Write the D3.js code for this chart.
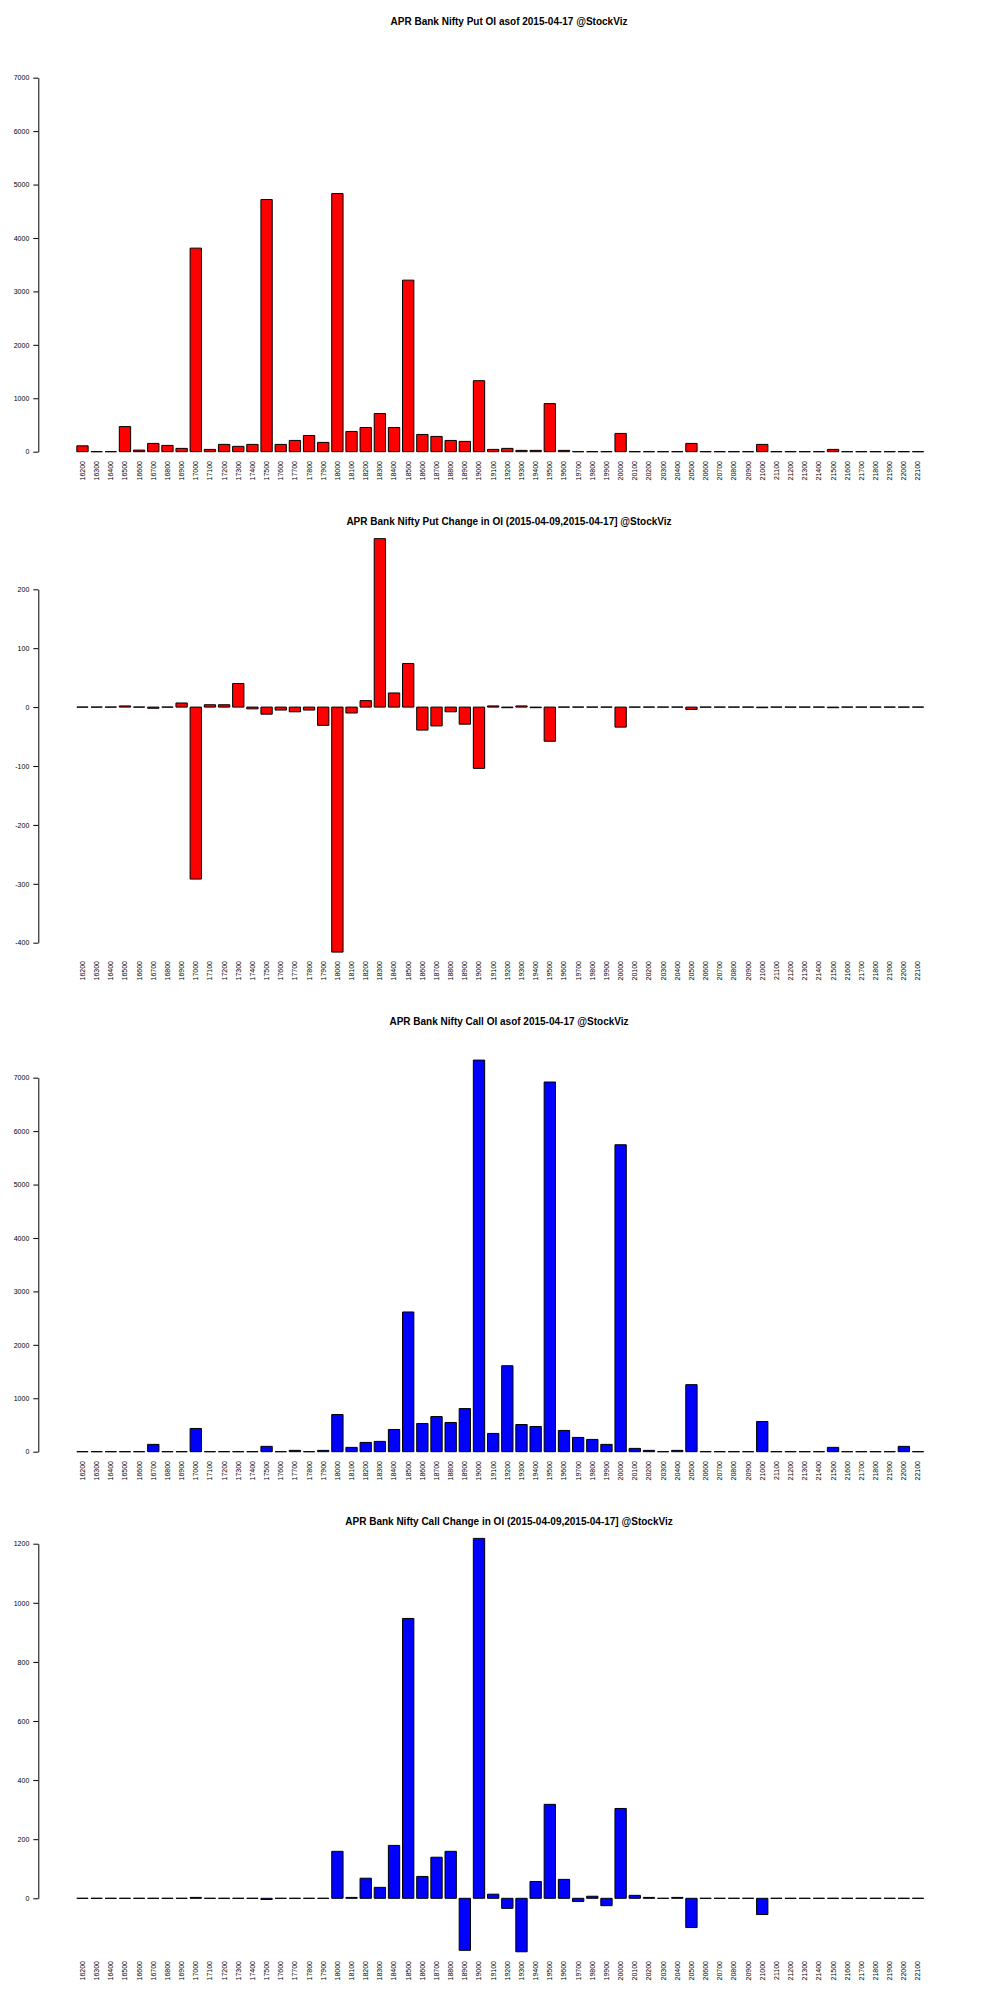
<!DOCTYPE html>
<html>
<head>
<meta charset="utf-8">
<script src="https://cdn.jsdelivr.net/npm/d3@7"></script>
<style>
body { margin: 0; background: #fff; }
svg { display: block; }
text { font-family: "Liberation Sans", Arial, sans-serif; }
</style>
</head>
<body>
<svg id="chart" width="1000" height="2000"></svg>
<script>
const strikes = ["16200","16300","16400","16500","16600","16700","16800","16900","17000","17100",
  "17200","17300","17400","17500","17600","17700","17800","17900","18000","18100",
  "18200","18300","18400","18500","18600","18700","18800","18900","19000","19100",
  "19200","19300","19400","19500","19600","19700","19800","19900","20000","20100",
  "20200","20300","20400","20500","20600","20700","20800","20900","21000","21100",
  "21200","21300","21400","21500","21600","21700","21800","21900","22000","22100"];

const putOI = [110,0,0,470,30,155,118,62,3810,43, 137,100,137,4720,137,211,304,174,4832,379,
  453,714,453,3211,323,286,211,193,1329,43,
  62,25,25,900,25,0,0,0,342,0, 0,0,0,155,0,0,0,0,137,0, 0,0,0,43,0,0,0,0,0,0];

const putChg = [0,0,0,2,0,-2,0,7,-292,4, 4,40,-3,-12,-5,-8,-5,-31,-416,-10,
  11,286,24,74,-39,-32,-8,-29,-104,2,
  -1,2,-1,-58,0,0,0,0,-34,0, 0,0,0,-4,0,0,0,0,-1,0, 0,0,0,-1,0,0,0,0,0,0];

const callOI = [0,0,0,0,0,137,0,0,435,0, 0,0,0,100,0,25,0,25,696,81,
  174,193,416,2615,528,658,547,807,7329,342,
  1609,509,472,6919,398,267,230,137,5745,62, 25,0,25,1255,0,0,0,0,565,0, 0,0,0,81,0,0,0,0,100,0];

const callChg = [0,0,0,0,0,0,0,0,3,0, 0,0,0,-4,0,0,0,0,159,3,
  68,37,179,947,74,139,159,-176,1218,14,
  -34,-181,57,318,64,-11,7,-25,304,10, 3,0,3,-99,0,0,0,0,-55,0, 0,0,0,0,0,0,0,0,0,0];

const oiTicks = [0,1000,2000,3000,4000,5000,6000,7000];
const putChgTicks = [-400,-300,-200,-100,0,100,200];
const callChgTicks = [0,200,400,600,800,1000,1200];

const titles = [
  "APR Bank Nifty Put OI asof 2015-04-17 @StockViz",
  "APR Bank Nifty Put Change in OI (2015-04-09,2015-04-17] @StockViz",
  "APR Bank Nifty Call OI asof 2015-04-17 @StockViz",
  "APR Bank Nifty Call Change in OI (2015-04-09,2015-04-17] @StockViz"
];

const panels = [
  { values: putOI,   ticks: oiTicks,      color: "#ff0000", yRange: [451.7, 77.7] },
  { values: putChg,  ticks: putChgTicks,  color: "#ff0000", yRange: [442.7, 89.3] },
  { values: callOI,  ticks: oiTicks,      color: "#0000ff", yRange: [451.7, 77.7] },
  { values: callChg, ticks: callChgTicks, color: "#0000ff", yRange: [398.3, 43.7] }
];

const svg = d3.select("#chart");
svg.append("rect").attr("width", 1000).attr("height", 2000).attr("fill", "#fff");

const x = d3.scaleBand().domain(strikes).range([75.4, 925.1]).paddingInner(0.2).paddingOuter(0.1);

panels.forEach((p, i) => {
  const g = svg.append("g").attr("transform", `translate(0,${i * 500})`);
  const y = d3.scaleLinear().domain(d3.extent(p.ticks)).range(p.yRange);

  g.append("text")
    .attr("x", 509).attr("y", 24.5)
    .attr("text-anchor", "middle")
    .attr("font-weight", "bold")
    .attr("font-size", "10px")
    .attr("fill", "#000")
    .text(titles[i]);

  g.append("g").selectAll("path")
    .data(p.values)
    .join("path")
    .attr("d", (d, j) => {
      const x0 = x(strikes[j]), w = x.bandwidth();
      const y0 = Math.min(y(d), y(0)), h = Math.abs(y(d) - y(0));
      return `M${x0},${y0}h${w}v${h}h${-w}Z`;
    })
    .attr("fill", p.color)
    .attr("stroke", "#000")
    .attr("stroke-width", 1);

  const ax = g.append("g")
    .attr("transform", "translate(38.3,0)")
    .call(d3.axisLeft(y).tickValues(p.ticks).tickSize(5).tickSizeOuter(0).tickPadding(4).tickFormat(d => String(d)));
  ax.selectAll("path, line").attr("stroke", "#000").attr("stroke-width", 1);
  ax.selectAll("text").attr("font-size", "7px").attr("fill", "#000")
    .attr("font-family", "'Liberation Sans', Arial, sans-serif");

  g.append("g").selectAll("text")
    .data(strikes)
    .join("text")
    .attr("transform", d => `translate(${x(d) + x.bandwidth() / 2},461) rotate(-90)`)
    .attr("text-anchor", "end")
    .attr("dy", "0.35em")
    .attr("font-size", "7px")
    .attr("fill", "#000")
    .text(d => d);
});
</script>
</body>
</html>
